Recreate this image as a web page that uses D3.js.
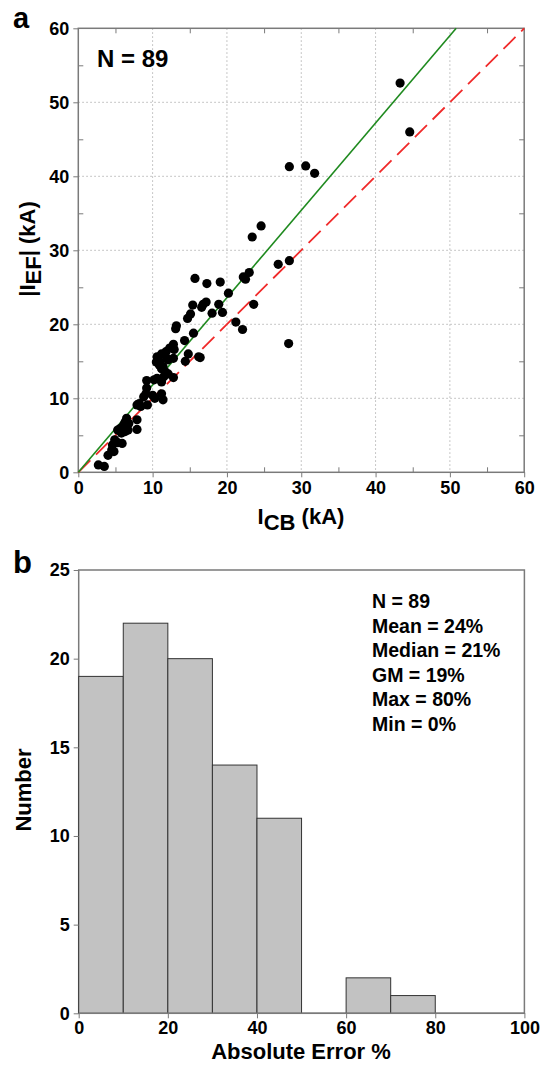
<!DOCTYPE html>
<html>
<head>
<meta charset="utf-8">
<script src="https://cdn.jsdelivr.net/npm/d3@7"></script>
<style>
  html, body { margin: 0; padding: 0; background: #ffffff; }
  svg { display: block; }
  text { font-family: "Liberation Sans", Arial, sans-serif; font-weight: bold; fill: #000; }
</style>
</head>
<body>
<svg id="chart"></svg>
<script>
// Panel a: I_CB vs |I_EF| (kA)
const icb = [43.3, 44.6, 28.4, 30.6, 31.8, 23.4, 24.6, 26.9, 28.4, 28.3,
  23.6, 21.2, 22.1, 23.0, 22.2, 22.5, 20.2, 15.7, 17.3, 19.1,
  18.9, 19.4, 18.0, 15.4, 16.8, 17.2, 16.6, 15.1, 14.7, 16.4,
  15.5, 14.3, 13.2, 13.1, 14.8, 14.4, 16.2, 12.8, 12.3, 12.9,
  11.8, 11.2, 10.6, 11.0, 11.9, 12.8, 10.5, 10.9, 11.4, 12.1,
  11.2, 11.7, 12.1, 12.8, 11.5, 10.2, 10.6, 9.2, 11.2, 9.2,
  11.2, 11.4, 10.3, 9.1, 8.8, 10.0, 8.2, 8.4, 7.9, 9.3,
  6.5, 6.3, 6.8, 6.1, 7.9, 5.6, 5.3, 6.3, 6.7, 5.8,
  7.9, 4.9, 5.3, 4.6, 5.9, 4.5, 4.8, 4.0, 2.7, 3.5];
const ief = [52.6, 46.0, 41.3, 41.4, 40.4, 31.8, 33.3, 28.1, 28.6, 17.4,
  22.7, 20.3, 19.3, 27.0, 26.4, 26.1, 24.2, 26.2, 25.5, 25.7,
  22.7, 21.6, 21.5, 22.6, 22.7, 23.0, 22.3, 21.4, 20.8, 15.5,
  18.8, 17.8, 19.8, 19.4, 16.0, 15.0, 15.6, 17.3, 16.8, 16.6,
  16.3, 16.0, 15.6, 14.9, 15.4, 15.4, 14.9, 14.5, 14.3, 15.2,
  14.0, 13.6, 13.3, 12.8, 12.9, 12.5, 12.7, 12.4, 12.2, 11.4,
  10.6, 9.8, 10.0, 10.6, 10.2, 10.4, 9.3, 8.9, 9.1, 9.1,
  7.3, 6.8, 6.6, 6.4, 7.1, 5.9, 5.7, 5.5, 5.7, 5.3,
  5.8, 4.4, 4.0, 3.7, 3.9, 3.0, 2.8, 2.3, 1.0, 0.8];
const fitSlope = 1.18;

// Panel b: histogram of absolute error %
const binStart = [0, 10, 20, 30, 40, 50, 60, 70];
const binEnd = [10, 20, 30, 40, 50, 60, 70, 80];
const counts = [19, 22, 20, 14, 11, 0, 2, 1];
const stats = ["N = 89", "Mean = 24%", "Median = 21%", "GM = 19%", "Max = 80%", "Min = 0%"];

const width = 547, height = 1065;
const svg = d3.select("#chart").attr("width", width).attr("height", height);

const frameColor = "#7a7a7a";

function styleAxis(g) {
  g.selectAll(".domain").remove();
  g.selectAll("line").attr("stroke", frameColor);
  g.selectAll("text").style("font-size", "18px").style("font-weight", "bold").attr("fill", "#000");
}

// ---------- panel a ----------
const a = { left: 78.3, right: 524.2, top: 28.3, bottom: 472.3 };
const xA = d3.scaleLinear().domain([0, 60]).range([a.left, a.right]);
const yA = d3.scaleLinear().domain([0, 60]).range([a.bottom, a.top]);
const gA = svg.append("g");

// dotted grid
const gridVals = [10, 20, 30, 40, 50];
gA.selectAll(".gx").data(gridVals).enter().append("line")
  .attr("x1", d => xA(d)).attr("x2", d => xA(d))
  .attr("y1", a.top).attr("y2", a.bottom)
  .attr("stroke", "#b5b5b5").attr("stroke-width", 1).attr("stroke-dasharray", "1.5,2.5");
gA.selectAll(".gy").data(gridVals).enter().append("line")
  .attr("y1", d => yA(d)).attr("y2", d => yA(d))
  .attr("x1", a.left).attr("x2", a.right)
  .attr("stroke", "#b5b5b5").attr("stroke-width", 1).attr("stroke-dasharray", "1.5,2.5");

// axes: major ticks outward, minor ticks inward
const majorA = d3.range(0, 61, 10);
const minorA = d3.range(5, 60, 10);
gA.append("g").attr("transform", `translate(0,${a.bottom})`)
  .call(d3.axisBottom(xA).tickValues(majorA).tickSize(5).tickPadding(4).tickFormat(d3.format("d")))
  .call(styleAxis);
gA.append("g").attr("transform", `translate(${a.left},0)`)
  .call(d3.axisLeft(yA).tickValues(majorA).tickSize(5).tickPadding(4).tickFormat(d3.format("d")))
  .call(styleAxis);
gA.append("g").attr("transform", `translate(0,${a.bottom})`)
  .call(d3.axisTop(xA).tickValues(minorA).tickSize(5).tickFormat("")).call(styleAxis);
gA.append("g").attr("transform", `translate(0,${a.top})`)
  .call(d3.axisBottom(xA).tickValues(minorA).tickSize(5).tickFormat("")).call(styleAxis);
gA.append("g").attr("transform", `translate(${a.left},0)`)
  .call(d3.axisRight(yA).tickValues(minorA).tickSize(5).tickFormat("")).call(styleAxis);
gA.append("g").attr("transform", `translate(${a.right},0)`)
  .call(d3.axisLeft(yA).tickValues(minorA).tickSize(5).tickFormat("")).call(styleAxis);

gA.append("rect")
  .attr("x", a.left).attr("y", a.top)
  .attr("width", a.right - a.left).attr("height", a.bottom - a.top)
  .attr("fill", "none").attr("stroke", frameColor).attr("stroke-width", 1.5);

// 1:1 line (red dashed) and fit line (green)
gA.append("line")
  .attr("x1", xA(0)).attr("y1", yA(0)).attr("x2", xA(60)).attr("y2", yA(60))
  .attr("stroke", "#f02a2a").attr("stroke-width", 1.8).attr("stroke-dasharray", "17,8");
gA.append("line")
  .attr("x1", xA(0)).attr("y1", yA(0)).attr("x2", xA(60 / fitSlope)).attr("y2", yA(60))
  .attr("stroke", "#1f8a1f").attr("stroke-width", 1.6);

// points
gA.selectAll(".pt").data(icb).enter().append("circle")
  .attr("cx", d => xA(d)).attr("cy", (d, i) => yA(ief[i]))
  .attr("r", 4.6).attr("fill", "#000");

gA.append("text").attr("x", 97).attr("y", 66.5).style("font-size", "24px").text("N = 89");
svg.append("text").attr("x", 13).attr("y", 28).style("font-size", "29px").text("a");

// axis titles
const xtA = svg.append("text").attr("x", 301).attr("y", 524).attr("text-anchor", "middle").style("font-size", "22px");
xtA.append("tspan").text("I");
xtA.append("tspan").attr("dy", 6).text("CB");
xtA.append("tspan").attr("dy", -6).text(" (kA)");

const ytA = svg.append("text").attr("transform", `translate(35,249) rotate(-90)`).attr("text-anchor", "middle").style("font-size", "22px");
ytA.append("tspan").text("|I");
ytA.append("tspan").attr("dy", 6).text("EF");
ytA.append("tspan").attr("dy", -6).text("| (kA)");

// ---------- panel b ----------
const b = { left: 78.7, right: 524.4, top: 570, bottom: 1013.3 };
const xB = d3.scaleLinear().domain([0, 100]).range([b.left, b.right]);
const yB = d3.scaleLinear().domain([0, 25]).range([b.bottom, b.top]);
const gB = svg.append("g");

gB.append("rect")
  .attr("x", b.left).attr("y", b.top)
  .attr("width", b.right - b.left).attr("height", b.bottom - b.top)
  .attr("fill", "none").attr("stroke", frameColor).attr("stroke-width", 1.5);

const bars = binStart.map((s, i) => ({ s, e: binEnd[i], c: counts[i] })).filter(d => d.c > 0);
gB.selectAll(".hb").data(bars).enter().append("rect").attr("class", "hb")
  .attr("x", d => xB(d.s)).attr("y", d => yB(d.c))
  .attr("width", d => xB(d.e) - xB(d.s)).attr("height", d => yB(0) - yB(d.c))
  .attr("fill", "#c2c2c2").attr("stroke", "#333").attr("stroke-width", 1);

gB.append("g").attr("transform", `translate(0,${b.bottom})`)
  .call(d3.axisBottom(xB).tickValues(d3.range(0, 101, 20)).tickSize(5).tickPadding(3).tickFormat(d3.format("d")))
  .call(styleAxis);
gB.append("g").attr("transform", `translate(${b.left},0)`)
  .call(d3.axisLeft(yB).tickValues(d3.range(0, 26, 5)).tickSize(5).tickPadding(4).tickFormat(d3.format("d")))
  .call(styleAxis);
gB.append("line").attr("x1", b.left).attr("x2", b.right).attr("y1", b.bottom).attr("y2", b.bottom)
  .attr("stroke", frameColor).attr("stroke-width", 1.5);

gB.selectAll(".st").data(stats).enter().append("text")
  .attr("x", 372).attr("y", (d, i) => 608 + i * 24.6)
  .style("font-size", "19.5px").text(d => d);

svg.append("text").attr("x", 13).attr("y", 573).style("font-size", "31px").text("b");

svg.append("text").attr("x", 301).attr("y", 1059).attr("text-anchor", "middle").style("font-size", "22px").text("Absolute Error %");
svg.append("text").attr("transform", `translate(31,790) rotate(-90)`).attr("text-anchor", "middle").style("font-size", "22px").text("Number");
</script>
</body>
</html>
